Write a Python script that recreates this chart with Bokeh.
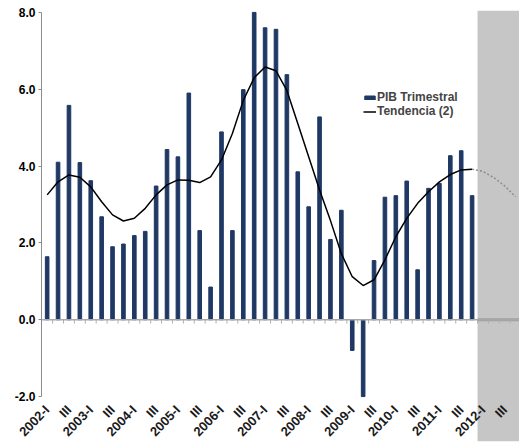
import numpy as np
from bokeh.plotting import figure
from bokeh.models import (
    ColumnDataSource, Range1d, FixedTicker, Span, BoxAnnotation,
    Legend, LegendItem,
)
from bokeh.embed import file_html
from bokeh.resources import INLINE

# Quarterly GDP growth (PIB trimestral), 2002-I .. 2011-IV
years = list(range(2002, 2013))
pib_trimestral = [
    1.64, 4.10, 5.58, 4.09,   # 2002
    3.62, 2.68, 1.90, 1.97,   # 2003
    2.19, 2.30, 3.48, 4.43,   # 2004
    4.24, 5.90, 2.32, 0.85,   # 2005
    4.89, 2.32, 5.99, 8.00,   # 2006
    7.60, 7.56, 6.38, 3.85,   # 2007
    2.94, 5.28, 2.09, 2.85,   # 2008
    -0.80, -2.00, 1.54, 3.19, # 2009
    3.23, 3.61, 1.30, 3.42,   # 2010
    3.55, 4.27, 4.40, 3.23,   # 2011
]
# Trend (Tendencia (2)), observed part
tendencia = [
    3.25, 3.59, 3.77, 3.71,
    3.46, 3.07, 2.73, 2.57,
    2.64, 2.90, 3.25, 3.51,
    3.64, 3.63, 3.57, 3.72,
    4.16, 4.85, 5.71, 6.30,
    6.58, 6.48, 5.97, 5.11,
    4.24, 3.38, 2.58, 1.72,
    1.12, 0.89, 1.04, 1.56,
    2.16, 2.64, 3.03, 3.33,
    3.59, 3.78, 3.90, 3.92,
]
# Projected trend, 2011-IV .. 2012-IV
tendencia_proy = [3.92, 3.86, 3.70, 3.48, 3.20]

y_ticks = [-2.0, 0.0, 2.0, 4.0, 6.0, 8.0]

n_obs = len(pib_trimestral)
n_total = len(years) * 4
idx = list(range(n_obs))

# x tick labels every second quarter
x_labels = {}
for i in range(0, n_total, 2):
    x_labels[i] = f"{years[i // 4]}-I" if i % 4 == 0 else "III"

bars = ColumnDataSource(data=dict(x=idx, top=pib_trimestral))
trend = ColumnDataSource(data=dict(x=idx, y=tendencia))
proj = ColumnDataSource(data=dict(
    x=list(range(n_obs - 1, n_obs - 1 + len(tendencia_proy))), y=tendencia_proy))
bounds = ColumnDataSource(data=dict(x=[i + 0.5 for i in range(n_total)]))

FONT = "Liberation Sans"

p = figure(
    width=519, height=447,
    x_range=Range1d(-0.52, 43.35), y_range=Range1d(-3.17, 8.05),
    output_backend="svg", toolbar_location=None,
    min_border_left=41, min_border_top=10, min_border_right=0,
    min_border_bottom=0,
)
p.background_fill_color = "white"
p.outline_line_color = None
p.grid.visible = False

# projection area
shade = BoxAnnotation(left=n_obs - 0.5, fill_color="#c6c6c6",
                      fill_alpha=1.0, line_alpha=0, level="underlay")
p.add_layout(shade)

p.add_layout(Span(location=0, dimension="width", line_color="#a8a8a8",
                  line_width=1.5))
p.segment(x0=[n_obs - 0.5], y0=[0], x1=[n_total - 0.5], y1=[0],
          line_color="#a0a0a0", line_width=3)
p.segment(x0="x", y0=0, x1="x", y1=-0.1, source=bounds,
          line_color="#b0b0b0", line_width=1)

r_bar = p.vbar(x="x", top="top", width=0.33, source=bars,
               fill_color="#1f3864", line_color="#1f3864")
r_line = p.line("x", "y", source=trend, line_color="black", line_width=1.5)
p.line("x", "y", source=proj, line_color="#8a8a8a", line_width=1.4,
       line_dash="2 2")

# x axis: labels pulled up just under the -2.0 level
p.xaxis.ticker = FixedTicker(ticks=list(x_labels.keys()))
p.xaxis.major_label_overrides = x_labels
p.xaxis.major_label_orientation = 0.8
p.xaxis.axis_line_color = None
p.xaxis.major_tick_line_color = None
p.xaxis.minor_tick_line_color = None
p.xaxis.major_label_standoff = -40
p.xaxis.major_label_text_font = FONT
p.xaxis.major_label_text_font_style = "bold"
p.xaxis.major_label_text_font_size = "13px"
p.xaxis.major_label_text_color = "#1a1a1a"

# y axis
p.yaxis.ticker = FixedTicker(ticks=y_ticks)
p.yaxis.bounds = (-2.0, 8.0)
p.yaxis.major_label_overrides = {t: f"{t:.1f}" for t in y_ticks}
p.yaxis.axis_line_color = "#8c8c8c"
p.yaxis.major_tick_line_color = "#8c8c8c"
p.yaxis.major_tick_out = 3
p.yaxis.major_tick_in = 0
p.yaxis.minor_tick_line_color = None
p.yaxis.major_label_standoff = 3
p.yaxis.major_label_text_font = FONT
p.yaxis.major_label_text_font_style = "bold"
p.yaxis.major_label_text_font_size = "12px"
p.yaxis.major_label_text_color = "black"

legend = Legend(
    items=[LegendItem(label="PIB Trimestral", renderers=[r_bar]),
           LegendItem(label="Tendencia (2)", renderers=[r_line])],
    location=(322, 323),
    glyph_width=13, glyph_height=5, label_standoff=1, spacing=-3,
    padding=0, margin=0, label_height=13,
    label_text_font=FONT, label_text_font_style="bold",
    label_text_font_size="12px",
    background_fill_alpha=0, border_line_alpha=0,
)
p.add_layout(legend)

open("out.html", "w").write(file_html(p, INLINE))
